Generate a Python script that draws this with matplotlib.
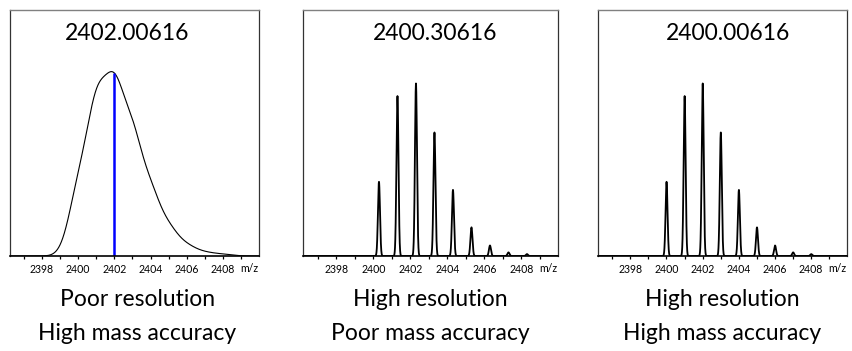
import numpy as np
import matplotlib
matplotlib.use("Agg")
import matplotlib.pyplot as plt

plt.rcParams['font.family'] = ['Lato', 'DejaVu Sans']

# ---- data ----
titles = ["2402.00616", "2400.30616", "2400.00616"]
caption_top = ["Poor resolution", "High resolution", "High resolution"]
caption_bottom = ["High mass accuracy", "Poor mass accuracy", "High mass accuracy"]
mono_mass = [2400.00616, 2400.30616, 2400.00616]          # monoisotopic m/z per panel
isotope_offsets = [0, 1, 2, 3, 4, 5, 6, 7, 8]             # isotope spacing (Da)
isotope_intensity = [0.43, 0.927, 1.0, 0.716, 0.383, 0.166, 0.061, 0.021, 0.011]
peak_sigma = [0.55, 0.055, 0.055]                          # instrument resolution (Da)
centroid_line = 2402.00616                                 # reported mass, panel 1
tick_values = [2398, 2400, 2402, 2404, 2406, 2408]
minor_tick_values = [2397, 2399, 2401, 2403, 2405, 2407, 2409]

# ---- layout ----
W, H = 852, 351
fig = plt.figure(figsize=(W / 100, H / 100), dpi=100)
boxes = [(9.5, 259), (303, 558.3), (597.7, 847.3)]
top_px, bot_px = 9.5, 256
title_x = [0.473, 0.516, 0.523]
xlim = (2396.2, 2410.0)

mz = np.linspace(xlim[0], xlim[1], 12000)

for i in range(3):
    l, r = boxes[i]
    ax = fig.add_axes([l / W, (H - bot_px) / H, (r - l) / W, (bot_px - top_px) / H])
    y = np.zeros_like(mz)
    for off, inten in zip(isotope_offsets, isotope_intensity):
        c = mono_mass[i] + off
        y += inten * np.exp(-0.5 * ((mz - c) / peak_sigma[i]) ** 2)
    if i == 0:
        y = y / y.max()
        ax.plot(mz, y, color='black', lw=0.8)
        ax.plot([centroid_line, centroid_line], [0, np.interp(centroid_line, mz, y)],
                color='#0000ff', lw=1.8, solid_capstyle='butt')
        ax.set_ylim(0, 1 / 0.748)
    else:
        ax.plot(mz, y, color='black', lw=1.3)
        ax.set_ylim(0, 1 / 0.70)
    ax.set_xlim(*xlim)
    ax.set_yticks([])
    ax.set_xticks(tick_values)
    ax.set_xticklabels([str(t) for t in tick_values], fontsize=7.6)
    ax.set_xticks(minor_tick_values, minor=True)
    ax.tick_params(axis='x', which='both', direction='out', length=2.5, width=0.9,
                   pad=3.5, colors='black')
    for s in ['left', 'right']:
        ax.spines[s].set_color('#333333')
        ax.spines[s].set_linewidth(0.9)
    ax.spines['top'].set_color('#808080')
    ax.spines['top'].set_linewidth(1.0)
    ax.spines['bottom'].set_color('black')
    ax.spines['bottom'].set_linewidth(1.2)
    ax.text(title_x[i], 0.903, titles[i], transform=ax.transAxes, ha='center',
            va='center', fontsize=16.5)
    ax.text(2409.45, -0.052, "m/z", transform=ax.get_xaxis_transform(), ha='center',
            va='center', fontsize=7.6)
    cx = (l + r) / 2 / W
    fig.text(cx + (3 / W if i == 0 else 0), (H - 300) / H, caption_top[i], ha='center',
             va='center', fontsize=16.5)
    fig.text(cx + (3 / W if i == 0 else 0), (H - 334) / H, caption_bottom[i], ha='center',
             va='center', fontsize=16.5)

fig.savefig("out.png", dpi=100)
